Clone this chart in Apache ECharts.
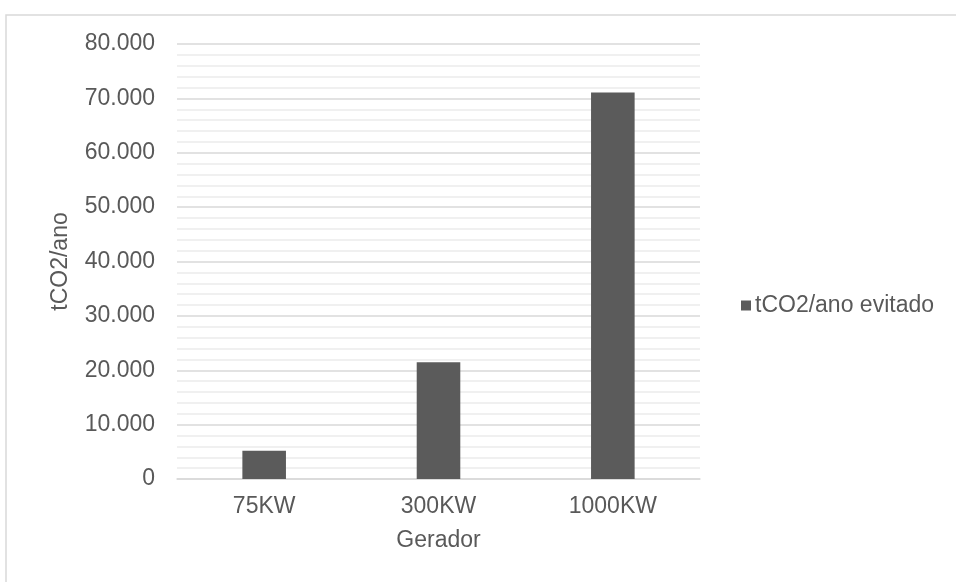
<!DOCTYPE html>
<html>
<head>
<meta charset="utf-8">
<script src="https://cdn.jsdelivr.net/npm/echarts@6/dist/echarts.min.js"></script>
<style>html,body{margin:0;padding:0;background:#fff}#c{width:956px;height:582px}</style>
</head>
<body>
<div id="c"></div>
<script>
var categories = ['75KW', '300KW', '1000KW'];
var seriesName = 'tCO2/ano evitado';
var values = [5200, 21450, 71100];
var yAxisName = 'tCO2/ano';
var xAxisName = 'Gerador';

var chart = echarts.init(document.getElementById('c'), null, {renderer: 'canvas'});
var txt = '#595959';
var font = 'Liberation Sans, Arial, sans-serif';
function fmt(v) {
  return String(v).replace(/\B(?=(\d{3})+(?!\d))/g, '.');
}
chart.setOption({
  animation: false,
  backgroundColor: '#fff',
  textStyle: {fontFamily: font},
  graphic: [{
    type: 'rect', silent: true,
    shape: {x: 6, y: 15, width: 1200, height: 1000},
    style: {fill: 'none', stroke: '#d9d9d9', lineWidth: 1.5}
  }],
  legend: {
    left: 736, top: 289, orient: 'vertical',
    icon: 'rect', itemWidth: 10, itemHeight: 10, itemGap: 5,
    textStyle: {color: txt, fontSize: 23, fontFamily: font, padding: [0, 0, 0, -1]},
    data: [seriesName]
  },
  grid: {left: 177, right: 256, top: 44, bottom: 103, containLabel: false},
  xAxis: {
    type: 'category', data: categories,
    name: xAxisName, nameLocation: 'middle', nameGap: 50,
    nameTextStyle: {color: txt, fontSize: 23, fontFamily: font},
    axisLine: {show: true, lineStyle: {color: '#d9d9d9', width: 1.5}},
    axisTick: {show: false},
    axisLabel: {color: txt, fontSize: 23, fontFamily: font, margin: 16}
  },
  yAxis: {
    type: 'value', min: 0, max: 80000, interval: 10000,
    name: yAxisName, nameLocation: 'middle', nameGap: 105, nameRotate: 90,
    nameTextStyle: {color: txt, fontSize: 23, fontFamily: font},
    axisLine: {show: false}, axisTick: {show: false},
    axisLabel: {color: txt, fontSize: 23, fontFamily: font, margin: 22, formatter: fmt},
    splitLine: {show: true, lineStyle: {color: '#d9d9d9', width: 1.5}},
    minorTick: {show: false, splitNumber: 5},
    minorSplitLine: {show: true, lineStyle: {color: '#ebebeb', width: 1.5}}
  },
  series: [{
    name: seriesName, type: 'bar', data: values, barWidth: '25%',
    itemStyle: {color: '#5b5b5b'}
  }]
});
</script>
</body>
</html>
